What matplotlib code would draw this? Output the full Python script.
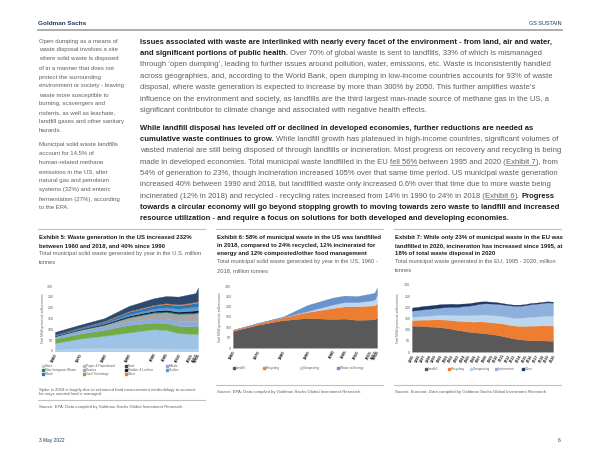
import re
import matplotlib
matplotlib.use('Agg')
import matplotlib.pyplot as plt
import matplotlib.font_manager as fm
from matplotlib.lines import Line2D
from matplotlib.patches import Rectangle

# ---- Exhibit 5: US MSW generation by material (million tonnes)
us_years = [1960, 1970, 1980, 1990, 2000, 2005, 2010, 2015, 2017, 2018]
glass = [6.7, 12.7, 15.1, 13.1, 12.8, 12.5, 11.5, 11.5, 11.4, 12.3]
paper = [30.0, 44.3, 55.2, 72.7, 87.7, 84.8, 71.3, 68.1, 67.0, 67.4]
yard = [20.0, 23.2, 27.5, 35.0, 30.5, 32.1, 33.4, 34.7, 35.2, 35.4]
metals = [10.8, 13.8, 15.5, 16.6, 18.9, 20.4, 22.5, 24.0, 24.8, 25.6]
plastics = [0.4, 2.9, 6.8, 17.1, 25.6, 29.4, 31.4, 34.5, 35.4, 35.7]
misc = [1.3, 1.8, 2.3, 2.9, 3.5, 3.7, 3.8, 4.0, 4.1, 4.0]
rubber = [1.8, 3.0, 4.2, 5.8, 6.7, 7.3, 7.8, 9.0, 9.2, 9.2]
textiles = [1.8, 2.0, 2.5, 5.8, 9.5, 11.5, 13.2, 16.0, 16.9, 17.0]
wood = [3.0, 3.7, 7.0, 12.2, 13.6, 14.8, 15.7, 16.3, 17.8, 18.1]
other = [0.1, 0.8, 2.5, 3.2, 4.0, 4.3, 4.7, 4.9, 5.2, 5.4]
food = [12.2, 12.8, 13.0, 23.9, 30.7, 32.9, 35.7, 39.7, 40.7, 63.1]
ex5_names = ['Glass', 'Paper & Paperboard', 'Yard Trimmings', 'Metals', 'Plastics',
             'Misc Inorganic Waste', 'Rubber & Leather', 'Textiles', 'Wood', 'Other', 'Food']
ex5_series = [glass, paper, yard, metals, plastics, misc, rubber, textiles, wood, other, food]
ex5_colors = ['#b4d2ee', '#9dc3e6', '#70ad47', '#8faadc', '#a5a5a5',
              '#2f7f6a', '#0f1f3a', '#5b9bd5', '#2e75b6', '#ed7d31', '#2c4a6e']
ex5_legend = ['Glass', 'Paper & Paperboard', 'Food', 'Metals',
              'Misc Inorganic Waste', 'Plastics', 'Rubber & Leather', 'Textiles',
              'Wood', 'Yard Trimmings', 'Other']

# ---- Exhibit 6: US MSW management (million tonnes)
us_landfill = [82.5, 112.6, 134.4, 145.3, 140.3, 142.3, 136.3, 137.7, 139.6, 146.1]
us_recycling = [5.6, 8.0, 14.5, 29.0, 53.0, 59.2, 65.3, 67.6, 67.0, 69.1]
us_composting = [0.0, 0.0, 0.0, 4.2, 16.5, 20.6, 20.2, 23.4, 27.0, 42.7]
us_energy = [0.0, 0.5, 2.8, 29.8, 33.7, 31.7, 29.3, 33.5, 34.0, 34.6]
ex6_names = ['Landfill', 'Recycling', 'Composting', 'Waste to Energy']
ex6_colors = ['#595959', '#ed7d31', '#bdd7ee', '#6892cc']

# ---- Exhibit 7: EU municipal waste treatment (million tonnes)
eu_years = list(range(1995, 2021))
eu_landfill = [118, 117, 116, 114, 113, 111, 108, 104, 99, 95, 91, 88, 86,
               84, 80, 77, 72, 66, 61, 57, 55, 53, 52, 52, 51, 50]
eu_recycling = [25, 27, 29, 31, 33, 35, 37, 39, 41, 44, 46, 48, 51,
                52, 53, 54, 56, 57, 58, 60, 62, 65, 66, 67, 68, 68]
eu_composting = [15, 16, 17, 18, 19, 21, 22, 24, 25, 27, 28, 30, 31,
                 32, 33, 33, 34, 35, 35, 37, 38, 40, 41, 42, 44, 45]
eu_incineration = [27, 28, 29, 30, 31, 32, 34, 35, 37, 39, 42, 45, 48,
                   50, 51, 52, 51, 52, 53, 53, 54, 56, 57, 58, 59, 58]
eu_other = [14, 14, 15, 15, 15, 15, 14, 14, 13, 12, 11, 11, 10,
            9, 8, 7, 6, 5, 5, 5, 5, 5, 5, 5, 5, 4]
ex7_names = ['Landfill', 'Recycling', 'Composting', 'Incineration', 'Other']
ex7_colors = ['#595959', '#ed7d31', '#bdd7ee', '#8db0dc', '#1f3864']

W, H = 600, 463
names = {f.name for f in fm.fontManager.ttflist}
BODY = ['Liberation Sans', 'DejaVu Sans']
COND = (['Liberation Sans Narrow'] + BODY) if 'Liberation Sans Narrow' in names else BODY
plt.rcParams['font.family'] = BODY

NAVY = '#1f3a60'
GREY = '#5f5f5f'
DARK = '#1e1e1e'
RULE = '#c0c0c0'

fig = plt.figure(figsize=(6, 4.63), dpi=100)
fig.patch.set_facecolor('white')
rend = fig.canvas.get_renderer()


def fx(x):
    return x / W


def fy(y):
    return 1 - y / H


def width(s, size, fam, weight='normal'):
    t = fig.text(0, 0, s, size=size, family=fam, weight=weight)
    w = t.get_window_extent(rend).width
    t.remove()
    return w


def fit(s, px, fam, weight='normal'):
    return 10 * px / width(s, 10, fam, weight)


def put(x, y, s, size, fam=BODY, weight='normal', color=GREY, **kw):
    return fig.text(fx(x), fy(y), s, size=size, family=fam, weight=weight,
                    color=color, va='baseline', **kw)


def hline(x0, x1, y, color=RULE, lw=0.8):
    fig.add_artist(Line2D([fx(x0), fx(x1)], [fy(y), fy(y)], color=color, lw=lw))


def runs(x, y, line, size, fam=BODY):
    # '**' toggles bold, '__' toggles underline
    bold = ul = False
    cx = x
    for tok in re.split(r'(\*\*|__)', line):
        if tok == '**':
            bold = not bold
            continue
        if tok == '__':
            ul = not ul
            continue
        if not tok:
            continue
        weight = 'bold' if bold else 'normal'
        sp = width('x x', size, fam, weight) - width('xx', size, fam, weight)
        if tok.startswith(' '):
            cx += sp
        t = put(cx, y, tok.strip(), size, fam, weight, DARK if bold else GREY)
        w = t.get_window_extent(rend).width
        if ul:
            hline(cx, cx + w, y + 1.2, color=GREY, lw=0.4)
        cx += w
        if tok.endswith(' '):
            cx += sp


def legend_item(x, y, label, color, size):
    fig.add_artist(Rectangle((fx(x), fy(y + 1)), 2.2 / W, 2.2 / H,
                             transform=fig.transFigure, color=color))
    put(x + 3.2, y + 1.1, label, size, COND)


# ---- header / footer
put(38, 25, 'Goldman Sachs', fit('Goldman Sachs', 48, COND, 'bold'), COND, 'bold', NAVY)
put(562, 25, 'GS SUSTAIN', fit('GS SUSTAIN', 33, COND), COND, 'normal', NAVY, ha='right')
hline(38, 562, 30, color='#a0a0a0', lw=1.2)
put(39, 442, '3 May 2022', fit('3 May 2022', 26, COND), COND, 'normal', NAVY)
put(561, 442, '6', fit('3 May 2022', 26, COND), COND, 'normal', NAVY, ha='right')

# ---- side notes
side1 = ['Open dumping as a means of', 'waste disposal involves a site',
         'where solid waste is disposed', 'of in a manner that does not',
         'protect the surrounding', 'environment or society - leaving',
         'waste more susceptible to', 'burning, scavengers and',
         'rodents, as well as leachate,', 'landfill gases and other sanitary', 'hazards.']
side2 = ['Municipal solid waste landfills', 'account for 14.5% of',
         'human-related methane', 'emissions in the US, after',
         'natural gas and petroleum', 'systems (32%) and enteric',
         'fermentation (27%), according', 'to the EPA.']
s_side = fit('environment or society - leaving', 85, BODY)
for i, s in enumerate(side1):
    put(39, 42.5 + 9 * i, s, s_side)
for i, s in enumerate(side2):
    put(39, 146.5 + 9 * i, s, s_side)

# ---- body text
para1 = [
    "**Issues associated with waste are interlinked with nearly every facet of the environment - from land, air and water,**",
    "**and significant portions of public health.** Over 70% of global waste is sent to landfills, 33% of which is mismanaged",
    "through \u2018open dumping\u2019, leading to further issues around pollution, water, emissions, etc. Waste is inconsistently handled",
    "across geographies, and, according to the World Bank, open dumping in low-income countries accounts for 93% of waste",
    "disposal, where waste generation is expected to increase by more than 300% by 2050. This further amplifies waste\u2019s",
    "influence on the environment and society, as landfills are the third largest man-made source of methane gas in the US, a",
    "significant contributor to climate change and associated with negative health effects.",
]
para2 = [
    "**While landfill disposal has leveled off or declined in developed economies, further reductions are needed as**",
    "**cumulative waste continues to grow.** While landfill growth has plateaued in high-income countries, significant volumes of",
    "wasted material are still being disposed of through landfills or incineration. Most progress on recovery and recycling is being",
    "made in developed economies. Total municipal waste landfilled in the EU __fell 56%__ between 1995 and 2020 (__Exhibit 7__), from",
    "54% of generation to 23%, though incineration increased 105% over that same time period. US municipal waste generation",
    "increased 40% between 1990 and 2018, but landfilled waste only increased 0.6% over that time due to more waste being",
    "incinerated (12% in 2018) and recycled - recycling rates increased from 14% in 1990 to 24% in 2018 (__Exhibit 6__). **Progress**",
    "**towards a circular economy will go beyond stopping growth to moving towards zero waste to landfill and increased**",
    "**resource utilization - and require a focus on solutions for both developed and developing economies.**",
]
s_body = fit(para1[3], 413, BODY)
for i, s in enumerate(para1):
    runs(140, 43.8 + 11.35 * i, s, s_body)
for i, s in enumerate(para2):
    runs(140, 129.8 + 11.33 * i, s, s_body)

# ---- exhibit titles
cols = [39, 217, 395]
titles = [
    ['Exhibit 5: Waste generation in the US increased 232%',
     'between 1960 and 2018, and 40% since 1990'],
    ['Exhibit 6: 58% of municipal waste in the US was landfilled',
     'in 2018, compared to 24% recycled, 12% incinerated for',
     'energy and 12% composted/other food management'],
    ['Exhibit 7: While only 23% of municipal waste in the EU was',
     'landfilled in 2020, incineration has increased since 1995, at',
     '18% of total waste disposal in 2020'],
]
subtitles = [
    ['Total municipal solid waste generated by year in the U.S. million', 'tonnes'],
    ['Total municipal solid waste generated by year in the US, 1960 -', '2018, million tonnes'],
    ['Total municipal waste generated in the EU, 1995 - 2020, million', 'tonnes'],
]
s_title = fit(titles[0][0], 153, COND, 'bold')
s_sub = fit(subtitles[0][0], 162, COND)
for x0, tl, sl in zip(cols, titles, subtitles):
    hline(x0 - 1, x0 + 166, 229)
    y = 238.6
    for s in tl:
        put(x0, y, s, s_title, COND, 'bold', DARK)
        y += 8.3
    for s in sl:
        put(x0, y, s, s_sub, COND, 'normal', GREY)
        y += 8.3

# ---- charts
ax1 = fig.add_axes([fx(55), fy(351), (198 - 55) / W, (351 - 286) / H])
ax2 = fig.add_axes([fx(233), fy(348), (377 - 233) / W, (348 - 286) / H])
ax3 = fig.add_axes([fx(412), fy(352), (553 - 412) / W, (352 - 285) / H])


def style(ax, years, xsize):
    ax.set_ylim(0, 300)
    ax.set_yticks(range(0, 301, 50))
    ax.set_xlim(years[0], years[-1])
    ax.set_xticks(years)
    ax.set_xticklabels([str(y) for y in years], rotation=62, ha='right',
                       rotation_mode='anchor', fontsize=xsize, weight='bold', color=DARK)
    ax.tick_params(axis='y', labelsize=2.6, labelcolor=GREY)
    ax.tick_params(length=0, pad=1.2)
    for s in ['top', 'right', 'left']:
        ax.spines[s].set_visible(False)
    ax.spines['bottom'].set_color('#bfbfbf')
    ax.spines['bottom'].set_linewidth(0.5)
    ax.patch.set_alpha(0)


def stack(ax, x, series, colors):
    polys = ax.stackplot(x, *series, colors=colors)
    for p, c in zip(polys, colors):
        p.set_edgecolor(c)
        p.set_linewidth(0.2)


stack(ax1, us_years, ex5_series, ex5_colors)
stack(ax2, us_years, [us_landfill, us_recycling, us_composting, us_energy], ex6_colors)
stack(ax3, eu_years, [eu_landfill, eu_recycling, eu_composting, eu_incineration, eu_other], ex7_colors)
style(ax1, us_years, 3.2)
style(ax2, us_years, 3.2)
style(ax3, eu_years, 2.7)

ylab = 'Total MSW generated, million tonnes'
for x, ax in ((43, ax1), (220, ax2), (398, ax3)):
    b = ax.get_position()
    fig.text(fx(x), (b.y0 + b.y1) / 2, ylab, rotation=90, ha='center', va='center',
             size=2.2, color=GREY, family=COND)

# ---- legends
s_leg = fit('Misc Inorganic Waste', 31, COND)
leg_x = [42, 83, 125, 166]
leg_y = [366, 370, 374]
col5 = dict(zip(ex5_names, ex5_colors))
for i, name in enumerate(ex5_legend):
    legend_item(leg_x[i % 4], leg_y[i // 4], name, col5[name], s_leg)

for x, name, c in zip([233, 263, 300, 337], ex6_names, ex6_colors):
    legend_item(x, 368, name, c, s_leg)
for x, name, c in zip([425, 448, 470, 495, 522], ex7_names, ex7_colors):
    legend_item(x, 369, name, c, s_leg)

# ---- notes and sources
note = ['Spike in 2018 is largely due to enhanced food measurement methodology to account',
        'for ways wasted food is managed.']
s_note = fit(note[0], 160, COND)
put(39, 390.5, note[0], s_note, COND)
put(39, 395, note[1], s_note, COND)
src_epa = 'Source: EPA, Data compiled by Goldman Sachs Global Investment Research'
src_eu = 'Source: Eurostat, Data compiled by Goldman Sachs Global Investment Research'
s_src = fit(src_epa, 144, COND)
hline(38, 205, 400)
put(39, 408, src_epa, s_src, COND)
hline(216, 383, 385)
put(217, 393, src_epa, s_src, COND)
hline(394, 561, 385)
put(395, 393, src_eu, s_src, COND)

fig.savefig('out.png', dpi=100)
